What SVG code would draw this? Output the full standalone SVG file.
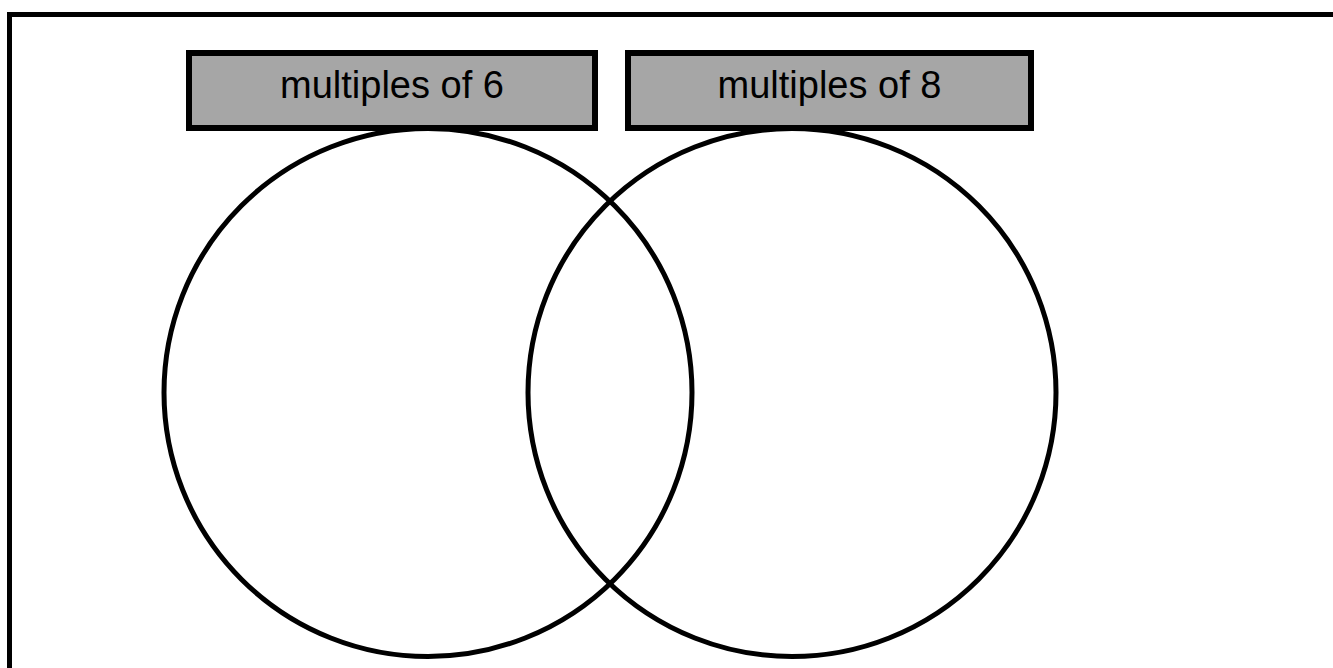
<svg xmlns="http://www.w3.org/2000/svg" width="1333" height="668" viewBox="0 0 1333 668">
<style>
.frame{fill:none;stroke:#000;stroke-width:5}
.label{fill:#a6a6a6;stroke:#000;stroke-width:6}
.set{fill:none;stroke:#000;stroke-width:5}
.txt{font-family:"Liberation Sans",Arial,sans-serif;font-size:38px;fill:#000;text-anchor:middle}
</style>
<rect width="1333" height="668" fill="#fff"/>
<rect class="frame" x="9.5" y="14.5" width="1340" height="700"/>
<g id="set-6">
<circle class="set" cx="428" cy="392.5" r="264"/>
</g>
<g id="set-8">
<circle class="set" cx="792" cy="392.5" r="264"/>
</g>
<g id="label-6">
<rect class="label" x="189" y="53" width="406" height="75"/>
<text class="txt" x="392" y="98">multiples of 6</text>
</g>
<g id="label-8">
<rect class="label" x="628" y="53" width="403" height="75"/>
<text class="txt" x="829.5" y="98">multiples of 8</text>
</g>
<g id="connectors"></g>
</svg>
